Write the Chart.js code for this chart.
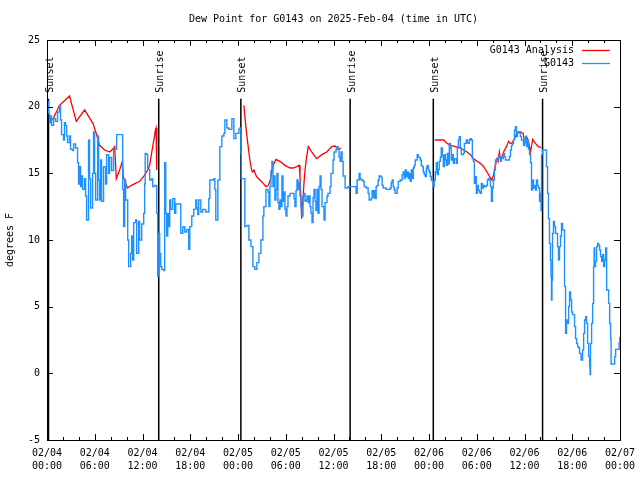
<!DOCTYPE html>
<html>
<head>
<meta charset="utf-8">
<title>Dew Point for G0143</title>
<script src="https://cdn.jsdelivr.net/npm/chart.js@4.4.1/dist/chart.umd.min.js"></script>
<style>
  html, body { margin: 0; padding: 0; background: #fff; }
  #wrap { width: 640px; height: 480px; }
</style>
</head>
<body>
<div id="wrap"><canvas id="chart" width="640" height="480"></canvas></div>
<script>
// --- DATOS (horas desde 02/04 00:00 UTC) ---
const obsHours = [
  0.06, 0.19, 0.31, 0.44, 0.57, 0.82, 1.07, 1.32, 1.57, 1.70, 1.83, 2.08,
  2.20, 2.33, 2.46, 2.58, 2.83, 2.96, 3.21, 3.34, 3.59, 3.84, 3.97, 4.09,
  4.22, 4.34, 4.47, 4.72, 4.85, 4.97, 5.22, 5.35, 5.48, 5.73, 5.85, 5.98,
  6.11, 6.36, 6.48, 6.61, 6.74, 6.86, 7.11, 7.37, 7.49, 7.74, 7.87, 8.12,
  8.37, 8.75, 9.38, 9.51, 9.63, 9.76, 9.88, 10.14, 10.26, 10.51, 10.64, 10.76,
  10.89, 11.14, 11.27, 11.52, 11.64, 11.90, 12.15, 12.27, 12.34, 12.53, 12.65, 12.90,
  13.16, 13.28, 13.53, 13.79, 13.91, 14.04, 14.16, 14.29, 14.42, 14.67, 14.79, 14.92,
  15.04, 15.17, 15.30, 15.42, 15.55, 15.80, 16.05, 16.18, 16.68, 16.81, 17.06, 17.31,
  17.56, 17.81, 17.94, 18.19, 18.44, 18.70, 18.82, 18.95, 19.07, 19.33, 19.58, 19.95,
  20.33, 20.46, 20.96, 21.09, 21.21, 21.47, 21.72, 21.97, 22.22, 22.35, 22.60, 22.85,
  23.23, 23.48, 23.73, 24.11, 24.24, 24.36, 24.42, 24.86, 25.12, 25.37, 25.62, 25.87,
  26.12, 26.37, 26.62, 26.88, 27.13, 27.25, 27.51, 27.76, 27.89, 28.01, 28.14, 28.26,
  28.39, 28.52, 28.64, 28.77, 28.89, 29.02, 29.15, 29.27, 29.40, 29.52, 29.65, 29.78,
  29.90, 30.03, 30.15, 30.28, 30.53, 30.91, 31.04, 31.16, 31.29, 31.41, 31.54, 31.66,
  31.79, 31.92, 32.04, 32.17, 32.29, 32.42, 32.54, 32.67, 32.80, 32.92, 33.05, 33.17,
  33.30, 33.43, 33.55, 33.68, 33.80, 33.93, 34.06, 34.18, 34.31, 34.43, 34.56, 34.81,
  34.94, 35.19, 35.31, 35.56, 35.69, 35.94, 36.07, 36.32, 36.45, 36.57, 36.70, 36.83,
  36.95, 37.08, 37.21, 37.46, 37.83, 38.34, 38.59, 38.84, 38.97, 39.22, 39.34, 39.47,
  39.72, 39.85, 40.10, 40.35, 40.48, 40.73, 40.85, 40.98, 41.11, 41.23, 41.36, 41.48,
  41.61, 41.74, 41.99, 42.11, 42.24, 42.62, 42.99, 43.12, 43.25, 43.37, 43.50, 43.62,
  43.75, 43.88, 44.00, 44.13, 44.38, 44.63, 44.76, 44.89, 45.01, 45.14, 45.26, 45.39,
  45.52, 45.64, 45.77, 45.89, 46.02, 46.15, 46.27, 46.52, 46.65, 46.90, 47.03, 47.15,
  47.28, 47.40, 47.53, 47.66, 47.78, 47.91, 48.04, 48.16, 48.29, 48.41, 48.54, 48.67,
  48.79, 48.92, 49.04, 49.17, 49.29, 49.42, 49.54, 49.67, 49.80, 49.92, 50.05, 50.17,
  50.30, 50.43, 50.55, 50.68, 50.80, 50.93, 51.06, 51.18, 51.43, 51.56, 51.69, 51.81,
  51.94, 52.06, 52.31, 52.44, 52.69, 52.82, 52.94, 53.07, 53.20, 53.32, 53.45, 53.57,
  53.70, 53.83, 53.95, 54.08, 54.20, 54.33, 54.46, 54.58, 54.71, 54.83, 54.96, 55.21,
  55.34, 55.46, 55.59, 55.72, 55.84, 55.97, 56.09, 56.22, 56.35, 56.47, 56.60, 56.72,
  56.85, 56.98, 57.10, 57.35, 57.48, 57.61, 57.98, 58.11, 58.24, 58.36, 58.49, 58.62,
  58.74, 58.87, 58.99, 59.12, 59.37, 59.49, 59.62, 59.87, 60.00, 60.12, 60.25, 60.38,
  60.50, 60.63, 60.76, 60.88, 61.01, 61.13, 61.26, 61.39, 61.51, 61.64, 61.76, 61.89,
  62.02, 62.08, 62.14, 62.27, 62.65, 62.76, 62.90, 63.01, 63.14, 63.26, 63.33, 63.39,
  63.45, 63.52, 63.64, 63.77, 63.90, 64.02, 64.15, 64.27, 64.40, 64.53, 64.65, 64.78,
  65.03, 65.16, 65.28, 65.41, 65.54, 65.66, 65.79, 65.92, 66.04, 66.17, 66.29, 66.42,
  66.55, 66.67, 66.80, 66.92, 67.11, 67.30, 67.43, 67.55, 67.68, 67.80, 67.93, 68.06,
  68.18, 68.24, 68.30, 68.43, 68.56, 68.68, 68.75, 68.81, 68.93, 69.06, 69.19, 69.31,
  69.44, 69.56, 69.69, 69.81, 69.94, 70.07, 70.19, 70.32, 70.57, 70.70, 70.82, 70.88,
  71.20, 71.33, 71.45, 71.77, 71.89, 71.98
];
const obsDew = [
  20.4, 19.5, 18.8, 19.3, 18.6, 19.1, 18.9, 19.6, 20.1, 19.0, 17.9, 17.5,
  18.8, 18.6, 17.8, 17.3, 17.8, 16.8, 16.7, 17.2, 16.9, 15.8, 14.2, 15.5,
  14.0, 14.8, 13.8, 14.6, 13.3, 11.5, 17.5, 14.6, 12.4, 15.0, 18.1, 15.0,
  13.0, 17.8, 14.5, 13.0, 16.0, 12.9, 15.5, 14.2, 16.4, 15.0, 16.2, 15.2,
  16.8, 17.9, 17.9, 13.8, 11.0, 14.5, 13.0, 10.0, 8.0, 9.0, 10.3, 8.5,
  11.3, 11.5, 9.0, 11.4, 10.0, 11.2, 12.0, 14.2, 16.5, 16.4, 15.3, 14.5,
  14.6, 14.0, 14.1, 12.0, 7.3, 10.5, 9.0, 8.0, 7.8, 7.7, 15.8, 12.0,
  10.3, 12.0, 11.0, 13.0, 12.3, 13.1, 12.0, 12.7, 12.7, 10.5, 11.0, 10.6,
  10.8, 9.3, 11.0, 11.8, 12.3, 13.0, 12.4, 11.9, 13.0, 12.1, 12.3, 12.1,
  13.1, 14.5, 14.6, 13.8, 11.5, 14.5, 17.0, 17.8, 18.0, 19.0, 18.4, 18.3,
  19.1, 17.6, 18.0, 18.3, 18.4, 16.5, 14.6, 11.0, 11.1, 10.0, 9.5, 8.0,
  7.8, 8.3, 9.0, 10.0, 11.8, 12.5, 13.8, 13.6, 12.5, 14.0, 15.2, 15.9,
  14.0, 14.8, 13.0, 13.8, 15.0, 12.8, 12.3, 13.0, 12.5, 14.8, 12.9, 13.6,
  12.3, 11.8, 12.5, 13.3, 13.5, 13.5, 13.1, 12.5, 13.7, 14.5, 13.8, 14.3,
  13.3, 12.5, 11.8, 13.3, 13.5, 12.9, 13.0, 13.3, 12.8, 13.3, 12.5, 12.0,
  11.3, 13.2, 13.8, 12.9, 12.2, 13.8, 12.0, 14.0, 14.8, 13.8, 12.5, 11.5,
  12.8, 13.3, 13.5, 14.0, 15.0, 16.0, 16.6, 16.8, 17.0, 16.8, 16.2, 15.9,
  16.6, 15.9, 14.8, 13.9, 14.0, 14.0, 14.0, 13.5, 14.5, 15.0, 14.6, 14.5,
  14.4, 14.0, 13.9, 13.5, 13.0, 13.1, 13.7, 13.2, 13.7, 13.1, 14.0, 14.1,
  14.5, 14.8, 14.7, 14.1, 13.9, 13.8, 13.8, 13.9, 14.3, 14.5, 14.0, 13.75,
  13.5, 13.5, 13.9, 14.4, 14.5, 14.9, 15.1, 14.6, 15.25, 14.75, 15.1, 14.6,
  15.0, 14.4, 15.25, 14.6, 15.4, 15.6, 16.0, 16.4, 16.2, 16.0, 15.6, 15.5,
  15.1, 14.9, 14.75, 15.4, 15.6, 15.25, 15.1, 14.75, 14.5, 14.4, 14.0, 14.5,
  15.1, 15.8, 14.9, 15.3, 15.9, 16.2, 16.9, 16.3, 15.5, 16.4, 16.0, 15.6,
  16.5, 15.7, 17.25, 16.9, 16.0, 16.4, 15.75, 16.1, 15.75, 17.0, 17.5, 17.75,
  16.9, 16.4, 16.5, 17.25, 17.5, 17.3, 17.25, 17.5, 17.6, 17.5, 16.1, 15.9,
  14.25, 14.75, 13.5, 14.1, 13.75, 13.6, 13.5, 14.25, 13.9, 14.1, 14.0, 14.1,
  14.5, 14.6, 14.5, 14.0, 12.9, 13.9, 14.5, 15.25, 16.0, 15.9, 16.1, 16.3,
  16.2, 15.9, 16.1, 16.5, 16.25, 16.0, 16.0, 16.25, 16.75, 17.1, 17.25, 17.5,
  18.25, 18.5, 17.75, 18.1, 18.0, 17.75, 17.5, 17.1, 17.5, 17.75, 17.0, 17.4,
  16.8, 16.4, 15.8, 13.75, 14.5, 13.9, 14.1, 13.75, 14.5, 14.1, 13.9, 12.9,
  13.5, 12.2, 16.4, 16.75, 16.75, 15.5, 13.5, 11.6, 9.75, 8.5, 7.25, 5.5,
  7.0, 10.5, 11.4, 11.0, 10.5, 10.5, 9.5, 8.5, 9.5, 10.3, 11.25, 10.75,
  6.5, 3.0, 4.0, 3.75, 5.0, 6.1, 5.5, 4.6, 4.4, 4.4, 3.5, 2.6,
  2.25, 2.0, 1.9, 1.5, 1.0, 1.75, 3.0, 4.0, 4.25, 3.75, 2.25, 1.25,
  0.5, -0.1, 2.25, 3.75, 5.25, 8.0, 9.4, 8.0, 8.4, 9.5, 9.75, 9.6,
  9.25, 8.75, 8.4, 8.9, 8.0, 8.5, 9.4, 6.25, 5.25, 3.75, 2.6, 0.7,
  0.7, 1.25, 1.8, 1.8, 2.3, 2.75
];

// Analisis (null = hueco entre noches)
const anaHours = [
  0.70, 1.57, 2.83, 3.68, 4.72, 5.77, 6.19, 6.61, 7.24, 7.87, 8.25, 8.50,
  8.71, 9.13, 9.47, 9.59, 10.10, 10.60, 11.65, 12.19, 12.65, 12.90, 13.07, 13.28,
  13.50, 13.62, 13.70, 13.79,
  19.00,
  24.74, 24.86, 25.08, 25.28, 25.49, 25.71, 25.83, 26.00, 26.33, 26.75, 27.17, 27.51,
  27.80, 28.01, 28.23, 28.43, 28.77, 29.27, 29.90, 30.53, 30.91, 31.37, 31.70, 31.79,
  31.92, 32.00, 32.13, 32.29, 32.42, 32.63, 32.84, 33.26, 33.89, 34.52, 35.15, 35.78,
  36.20, 36.61, 36.95,
  43.00,
  48.72, 49.83, 50.26, 50.67, 51.30, 51.93, 52.35, 52.78, 53.19, 53.61, 54.03, 54.45,
  54.87, 55.29, 55.62, 55.92, 56.12, 56.34, 56.55, 56.68, 56.84, 56.97, 57.18, 57.38,
  57.72, 58.01, 58.23, 58.44, 58.64, 58.86, 59.15, 59.49, 59.83, 60.03, 60.24, 60.45,
  60.66, 60.75, 61.03, 61.37, 61.71, 62.09
];
const anaDew = [
  19.0, 20.1, 20.8, 18.9, 19.75, 18.75, 18.0, 17.1, 16.75, 16.6, 16.8, 17.0,
  14.6, 15.25, 15.9, 14.75, 13.9, 14.1, 14.4, 14.8, 15.25, 15.6, 16.25, 17.0,
  17.75, 18.25, 18.4, 15.25,
  null,
  20.1, 19.25, 18.0, 17.0, 16.0, 15.25, 15.1, 15.25, 14.75, 14.5, 14.25, 14.0,
  14.1, 14.4, 15.0, 15.6, 16.05, 15.9, 15.6, 15.4, 15.4, 15.5, 15.6, 14.75,
  12.75, 11.6, 12.75, 14.25, 15.25, 16.25, 17.0, 16.6, 16.1, 16.4, 16.6, 17.0,
  17.05, 16.8, 16.9,
  null,
  17.5, 17.5, 17.25, 17.1, 17.0, 16.9, 16.75, 16.6, 16.4, 16.1, 15.9, 15.75,
  15.5, 15.1, 14.75, 14.5, 14.9, 15.6, 16.1, 15.9, 16.6, 16.1, 16.25, 16.6,
  17.0, 17.4, 17.25, 17.25, 17.5, 17.75, 18.1, 18.1, 18.0, 17.25, 17.75, 17.5,
  16.9, 16.6, 17.55, 17.25, 17.0, 16.95
];

const sunHours = [0.19, 14.04, 24.36, 38.09, 48.54, 62.27];
const sunNames = ['Sunset', 'Sunrise', 'Sunset', 'Sunrise', 'Sunset', 'Sunrise'];
const sunLineTop = 20.6;

const xTickHours = [0, 6, 12, 18, 24, 30, 36, 42, 48, 54, 60, 66, 72];
const xTickDates = ['02/04', '02/04', '02/04', '02/04', '02/05', '02/05', '02/05', '02/05',
                    '02/06', '02/06', '02/06', '02/06', '02/07'];
const xTickTimes = ['00:00', '06:00', '12:00', '18:00', '00:00', '06:00', '12:00', '18:00',
                    '00:00', '06:00', '12:00', '18:00', '00:00'];
const yTicks = [-5, 0, 5, 10, 15, 20, 25];

const seriesNames = ['G0143 Analysis', 'G0143'];
const seriesColors = ['#ff0000', '#1e90ff'];

const TITLE = 'Dew Point for G0143 on 2025-Feb-04 (time in UTC)';
const Y_LABEL = 'degrees F';
const FONT = '10px "DejaVu Sans Mono", "Liberation Mono", monospace';

// --- MARCO ESTILO GNUPLOT ---
const gnuFrame = {
    id: 'gnuFrame',
    afterDraw(chart) {
        const { ctx, chartArea: a, scales: { x, y } } = chart;
        ctx.save();
        ctx.strokeStyle = '#000';
        ctx.lineWidth = 1;
        ctx.strokeRect(a.left + 0.5, a.top + 0.5, a.right - a.left, a.bottom - a.top);

        // marcas hacia dentro
        ctx.beginPath();
        yTicks.forEach(v => {
            const py = Math.round(y.getPixelForValue(v)) + 0.5;
            ctx.moveTo(a.left, py); ctx.lineTo(a.left + 6, py);
            ctx.moveTo(a.right, py); ctx.lineTo(a.right - 6, py);
        });
        for (let h = 0; h <= 72; h += 2) {
            const len = h % 6 === 0 ? 6 : 3;
            const px = Math.round(x.getPixelForValue(h)) + 0.5;
            ctx.moveTo(px, a.bottom); ctx.lineTo(px, a.bottom - len);
            ctx.moveTo(px, a.top); ctx.lineTo(px, a.top + len);
        }
        ctx.stroke();

        ctx.fillStyle = '#000';
        ctx.font = FONT;

        // etiquetas eje Y
        ctx.textAlign = 'right';
        ctx.textBaseline = 'middle';
        yTicks.forEach(v => ctx.fillText(String(v), a.left - 7, y.getPixelForValue(v)));

        // etiquetas eje X
        ctx.textAlign = 'center';
        xTickHours.forEach((h, i) => {
            const px = x.getPixelForValue(h);
            ctx.fillText(xTickDates[i], px, a.bottom + 13);
            ctx.fillText(xTickTimes[i], px, a.bottom + 26);
        });

        // titulo
        ctx.fillText(TITLE, (a.left + a.right) / 2, 19);

        // etiqueta Y rotada
        ctx.save();
        ctx.translate(10, (a.top + a.bottom) / 2);
        ctx.rotate(-Math.PI / 2);
        ctx.fillText(Y_LABEL, 0, 0);
        ctx.restore();

        // Sunset / Sunrise
        sunHours.forEach((h, i) => {
            const px = x.getPixelForValue(h);
            ctx.save();
            ctx.translate(px + 2, y.getPixelForValue(sunLineTop) - 6);
            ctx.rotate(-Math.PI / 2);
            ctx.textAlign = 'left';
            ctx.fillText(sunNames[i], 0, 0);
            ctx.restore();
        });

        // leyenda
        seriesNames.forEach((name, i) => {
            const ly = a.top + 10 + i * 13;
            ctx.textAlign = 'right';
            ctx.fillStyle = '#000';
            ctx.fillText(name, a.right - 46, ly);
            ctx.beginPath();
            ctx.strokeStyle = seriesColors[i];
            ctx.lineWidth = 1.3;
            ctx.moveTo(a.right - 38, Math.round(ly) + 0.5);
            ctx.lineTo(a.right - 10, Math.round(ly) + 0.5);
            ctx.stroke();
        });
        ctx.restore();
    }
};

const toPoints = (xs, ys) => xs.map((h, i) => ({ x: h, y: ys[i] }));

const sunLines = sunHours.map(h => ({
    data: [{ x: h, y: -5 }, { x: h, y: sunLineTop }],
    borderColor: '#000',
    borderWidth: 1.5,
    pointRadius: 0,
    order: 3
}));

new Chart(document.getElementById('chart'), {
    type: 'line',
    data: {
        datasets: [
            {
                label: seriesNames[1],
                data: toPoints(obsHours, obsDew),
                borderColor: seriesColors[1],
                borderWidth: 1.4,
                pointRadius: 0,
                stepped: true,
                order: 1
            },
            {
                label: seriesNames[0],
                data: toPoints(anaHours, anaDew),
                borderColor: seriesColors[0],
                borderWidth: 1.3,
                pointRadius: 0,
                spanGaps: false,
                order: 2
            },
            ...sunLines
        ]
    },
    options: {
        responsive: false,
        animation: false,
        layout: { padding: { left: 47, right: 20, top: 40, bottom: 40 } },
        scales: {
            x: { type: 'linear', min: 0, max: 72, display: false },
            y: { type: 'linear', min: -5, max: 25, display: false }
        },
        plugins: {
            legend: { display: false },
            title: { display: false },
            tooltip: { enabled: false }
        }
    },
    plugins: [gnuFrame]
});
</script>
</body>
</html>
